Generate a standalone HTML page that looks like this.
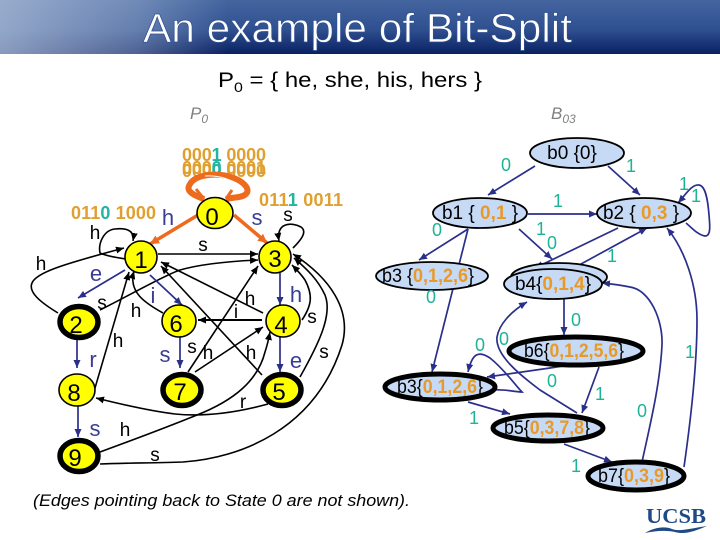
<!DOCTYPE html>
<html><head><meta charset="utf-8"><style>
html,body{margin:0;padding:0;background:#fff}
svg{display:block}
text{font-family:"Liberation Sans",sans-serif}
.kh{fill:none;stroke:#000;stroke-width:1.6;marker-end:url(#mk)}
.n{fill:none;stroke:#2b2f8c;stroke-width:1.7;marker-end:url(#mn)}
.o{fill:none;stroke:#ee6a1c;stroke-width:3.5;marker-end:url(#mo)}
.st{fill:#ff0;stroke:#000;stroke-width:1.6}
.acc{fill:#ff0;stroke:#000;stroke-width:5.5}
.b{fill:#c6daf6;stroke:#000;stroke-width:1.8}
.ba{fill:#c6daf6;stroke:#000;stroke-width:5}
.num{font-size:24px;text-anchor:middle;fill:#000}
.bl{font-size:22px;text-anchor:middle;fill:#3a3d96}
.sm{font-size:19px;text-anchor:middle;fill:#000}
.t{font-size:18px;text-anchor:middle;fill:#1fb396}
.bit{font-size:18px;font-weight:bold;fill:#e0a030}
.bit tspan{fill:#22b5a0}
.lab{font-size:19px;text-anchor:middle;fill:#000}
.lab tspan{font-weight:bold;fill:#e89a28}
</style></head><body>
<svg width="720" height="540" viewBox="0 0 720 540" xmlns="http://www.w3.org/2000/svg">
<defs>
<linearGradient id="hv" x1="0" y1="0" x2="0" y2="1"><stop offset="0" stop-color="#44659f"/><stop offset=".55" stop-color="#2f5090"/><stop offset="1" stop-color="#0a2061"/></linearGradient>
<linearGradient id="hl" x1="0" y1="0" x2="1" y2="0"><stop offset="0" stop-color="#b4c4dc" stop-opacity=".75"/><stop offset=".6" stop-color="#b4c4dc" stop-opacity=".4"/><stop offset="1" stop-color="#b4c4dc" stop-opacity="0"/></linearGradient>
<marker id="mk" markerUnits="userSpaceOnUse" markerWidth="9" markerHeight="8" refX="8" refY="4" orient="auto"><path d="M0,0.5L8,4L0,7.5z" fill="#000"/></marker>
<marker id="mn" markerUnits="userSpaceOnUse" markerWidth="9" markerHeight="8" refX="8" refY="4" orient="auto"><path d="M0,0.5L8,4L0,7.5z" fill="#2b2f8c"/></marker>
<marker id="mo" markerUnits="userSpaceOnUse" markerWidth="10" markerHeight="10" refX="9" refY="5" orient="auto"><path d="M0,0.5L9,5L0,9.5z" fill="#ee6a1c"/></marker>
</defs>
<rect width="720" height="54" fill="url(#hv)"/>
<rect width="228" height="54" fill="url(#hl)"/>
<text x="143" y="42" font-size="41" fill="#fff" stroke="#2f5090" stroke-width=".7" textLength="429" lengthAdjust="spacingAndGlyphs">An example of Bit-Split</text>
<text x="218" y="87" font-size="21" fill="#000" textLength="264" lengthAdjust="spacingAndGlyphs">P<tspan font-size="14" dy="5">0</tspan><tspan dy="-5"> = { he, she, his, hers }</tspan></text>
<text x="190" y="119" font-size="17" font-style="italic" fill="#808080">P<tspan font-size="12" dy="4">0</tspan></text>
<text x="551" y="119" font-size="17" font-style="italic" fill="#808080">B<tspan font-size="12" dy="4">03</tspan></text>

<!-- bit labels -->
<text class="bit" x="182" y="161" textLength="84">000<tspan>1</tspan> 0000</text>
<text class="bit" x="182" y="174" textLength="84">000<tspan>0</tspan> 0001</text>
<text class="bit" x="182" y="177" textLength="84">000<tspan>0</tspan> 0000</text>
<text class="bit" x="71" y="219" textLength="85">011<tspan>0</tspan> 1000</text>
<text class="bit" x="259" y="206" textLength="84">011<tspan>1</tspan> 0011</text>

<!-- orange edges -->
<path d="M204,199C190,194 186,190 190,184C196,174 218,172 234,178C246,183 250,190 246,194C242,198 234,197 226,199" fill="none" stroke="#ee6a1c" stroke-width="6"/>
<path d="M204,199L196,189M226,199L232,190" fill="none" stroke="#ee6a1c" stroke-width="3"/>
<path d="M205,176C218,175 232,179 240,187" fill="none" stroke="#fff" stroke-width="1"/>
<path class="o" d="M198,215L150,244"/>
<path class="o" d="M234,215L267,243"/>

<!-- black edges left -->
<path class="kh" d="M126,259C112,257 104,255 100,253C98,243 104,230 115,229C124,228 135,229 133,241"/>
<path class="kh" d="M58,313C40,302 28,292 32,283C36,273 60,265 124,248"/>
<path class="kh" d="M100,310C130,295 165,275 180,270C205,263 235,261 258,260"/>
<path class="kh" d="M95,388L129,272"/>
<path class="kh" d="M163,313C145,303 128,292 134,271"/>
<path class="kh" d="M158,254L258,254"/>
<path class="kh" d="M263,313L161,262"/>
<path class="kh" d="M262,375L161,266"/>
<path class="kh" d="M188,372L258,266"/>
<path class="kh" d="M262,320L198,320" style="stroke-width:2"/>
<path class="kh" d="M195,372L263,327"/>
<path class="kh" d="M268,404C235,413 205,417 175,414C150,411 120,404 96,398"/>
<path class="kh" d="M100,452C130,441 165,428 197,415C235,400 258,380 265,352C268,343 269,337 270,332"/>
<path class="kh" d="M100,464C125,463 155,463 183,462C240,458 315,430 342,345C352,310 330,278 293,254"/>
<path class="kh" d="M300,377C318,345 333,315 325,295C318,280 308,270 294,258"/>
<path class="kh" d="M302,320C312,305 313,295 305,280C301,274 297,270 292,265"/>
<path class="kh" d="M293,248C300,241 308,232 301,227C292,222 276,222 279,241"/>

<!-- blue edges left -->
<path class="n" d="M125,270L78,298"/>
<path class="n" d="M150,275L182,305"/>
<path class="n" d="M77,339L77,368"/>
<path class="n" d="M78,406L78,437"/>
<path class="n" d="M180,337L180,368"/>
<path class="n" d="M280,273L280,305"/>
<path class="n" d="M280,337L280,372"/>

<!-- nodes left -->
<ellipse class="st" cx="215" cy="213" rx="18" ry="15.5"/>
<ellipse class="st" cx="141" cy="257" rx="16" ry="16"/>
<ellipse class="st" cx="275" cy="257" rx="16" ry="16"/>
<ellipse class="acc" cx="79" cy="322" rx="19" ry="15.5"/>
<ellipse class="st" cx="179" cy="321" rx="17" ry="16"/>
<ellipse class="st" cx="283" cy="321" rx="17" ry="16"/>
<ellipse class="st" cx="77" cy="390" rx="18" ry="16"/>
<ellipse class="acc" cx="182" cy="390" rx="19" ry="15.5"/>
<ellipse class="acc" cx="282" cy="390" rx="19" ry="15.5"/>
<ellipse class="acc" cx="79" cy="456" rx="19" ry="15.5"/>
<text class="num" x="212" y="225">0</text>
<text class="num" x="141" y="268">1</text>
<text class="num" x="275" y="267">3</text>
<text class="num" x="76" y="333">2</text>
<text class="num" x="176" y="332">6</text>
<text class="num" x="281" y="333">4</text>
<text class="num" x="74" y="401">8</text>
<text class="num" x="180" y="400">7</text>
<text class="num" x="279" y="400">5</text>
<text class="num" x="75" y="466">9</text>

<!-- blue letters -->
<text class="bl" x="168" y="225">h</text>
<text class="bl" x="257" y="225">s</text>
<text class="bl" x="96" y="281">e</text>
<text class="bl" x="153" y="303">i</text>
<text class="bl" x="93" y="367">r</text>
<text class="bl" x="95" y="436">s</text>
<text class="bl" x="165" y="362">s</text>
<text class="bl" x="296" y="302">h</text>
<text class="bl" x="296" y="368">e</text>
<!-- black letters -->
<text class="sm" x="95" y="239">h</text>
<text class="sm" x="41" y="270">h</text>
<text class="sm" x="102" y="309">s</text>
<text class="sm" x="136" y="317">h</text>
<text class="sm" x="118" y="347">h</text>
<text class="sm" x="203" y="251">s</text>
<text class="sm" x="288" y="221">s</text>
<text class="sm" x="125" y="436">h</text>
<text class="sm" x="155" y="461">s</text>
<text class="sm" x="312" y="323">s</text>
<text class="sm" x="324" y="358">s</text>
<text class="sm" x="208" y="359">h</text>
<text class="sm" x="192" y="353">s</text>
<text class="sm" x="250" y="305">h</text>
<text class="sm" x="236" y="318">i</text>
<text class="sm" x="251" y="359">h</text>
<text class="sm" x="243" y="408">r</text>

<!-- right edges -->
<path class="n" d="M535,166L488,195"/>
<path class="n" d="M608,166L640,195"/>
<path class="n" d="M528,214L597,214"/>
<path class="n" d="M468,229L419,260"/>
<path class="n" d="M468,229L432,372"/>
<path class="n" d="M519,229L552,259"/>
<path class="n" d="M618,228L535,268"/>
<path class="n" d="M570,270L647,228"/>
<path class="n" d="M686,223C692,228 698,235 705,236C711,236 710,226 709,215C708,202 706,186 699,185C692,184 686,194 678,203"/>
<path class="n" d="M564,298L564,335"/>
<path class="n" d="M642,462C650,425 660,385 662,345C663,320 650,290 630,287C620,285 612,284 602,283"/>
<path class="n" d="M684,467C690,425 697,370 697,320C697,285 685,250 667,228"/>
<path class="n" d="M563,366L550,368L487,377"/>
<path class="n" d="M493,390C505,389 515,392 522,392C515,385 505,370 490,358C478,350 472,354 468,372"/>
<path class="n" d="M468,402L510,414"/>
<path class="n" d="M599,367L582,413"/>
<path class="n" d="M564,444L612,462"/>
<path class="n" d="M577,413L540,390C520,375 495,355 497,337C499,325 510,312 527,302"/>

<!-- right nodes -->
<ellipse class="b" cx="577" cy="153" rx="47" ry="15"/>
<ellipse class="b" cx="480" cy="213" rx="47" ry="15"/>
<ellipse class="b" cx="644" cy="213" rx="47" ry="15"/>
<ellipse class="b" cx="432" cy="276" rx="56" ry="14"/>
<ellipse class="b" cx="559" cy="277" rx="48" ry="14"/>
<ellipse class="b" cx="553" cy="284" rx="49" ry="15"/>
<ellipse class="ba" cx="440" cy="387" rx="55" ry="13"/>
<ellipse class="ba" cx="576" cy="351" rx="67" ry="14"/>
<ellipse class="ba" cx="548" cy="428" rx="55" ry="13"/>
<ellipse class="ba" cx="636" cy="476" rx="48" ry="14"/>
<text class="lab" x="572" y="159">b0 {0}</text>
<text class="lab" x="480" y="219">b1 { <tspan>0,1</tspan> }</text>
<text class="lab" x="641" y="219">b2 { <tspan>0,3</tspan> }</text>
<text class="lab" x="428" y="282" textLength="92" lengthAdjust="spacingAndGlyphs">b3 {<tspan>0,1,2,6</tspan>}</text>
<text class="lab" x="553" y="290">b4{<tspan>0,1,4</tspan>}</text>
<text class="lab" x="440" y="393" textLength="86" lengthAdjust="spacingAndGlyphs">b3{<tspan>0,1,2,6</tspan>}</text>
<text class="lab" x="574" y="357" textLength="100" lengthAdjust="spacingAndGlyphs">b6{<tspan>0,1,2,5,6</tspan>}</text>
<text class="lab" x="547" y="434" textLength="86" lengthAdjust="spacingAndGlyphs">b5{<tspan>0,3,7,8</tspan>}</text>
<text class="lab" x="634" y="482" textLength="72" lengthAdjust="spacingAndGlyphs">b7{<tspan>0,3,9</tspan>}</text>

<!-- bit labels right -->
<text class="t" x="506" y="171">0</text>
<text class="t" x="631" y="172">1</text>
<text class="t" x="558" y="207">1</text>
<text class="t" x="437" y="236">0</text>
<text class="t" x="541" y="235">1</text>
<text class="t" x="552" y="249">0</text>
<text class="t" x="612" y="262">1</text>
<text class="t" x="684" y="190">1</text>
<text class="t" x="696" y="202">1</text>
<text class="t" x="431" y="303">0</text>
<text class="t" x="576" y="326">0</text>
<text class="t" x="480" y="351">0</text>
<text class="t" x="504" y="345">0</text>
<text class="t" x="690" y="358">1</text>
<text class="t" x="552" y="387">0</text>
<text class="t" x="600" y="400">1</text>
<text class="t" x="642" y="417">0</text>
<text class="t" x="474" y="424">1</text>
<text class="t" x="576" y="472">1</text>

<text x="33" y="506" font-size="17" font-style="italic" fill="#000" textLength="377" lengthAdjust="spacingAndGlyphs">(Edges pointing back to State 0 are not shown).</text>

<text x="646" y="523" font-size="21" font-weight="bold" fill="#1f4a85" textLength="60" lengthAdjust="spacingAndGlyphs" style="font-family:'Liberation Serif',serif">UCSB</text>
<path d="M645,533C655,527 665,526 672,529C680,532 692,528 707,526C695,531 685,535 675,532C665,530 655,531 645,533z" fill="#1f4a85"/>
</svg>
</body></html>
